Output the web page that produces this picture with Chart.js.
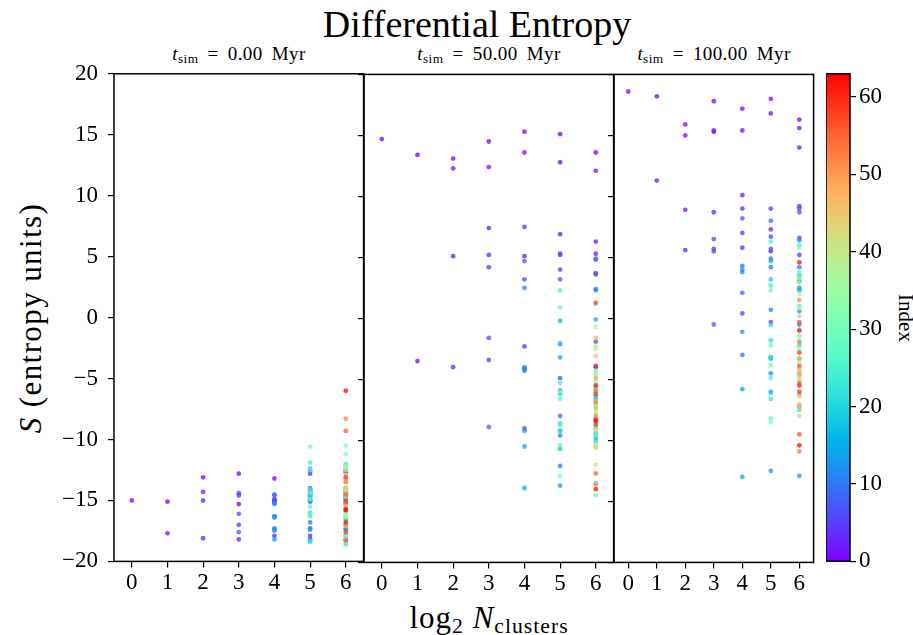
<!DOCTYPE html>
<html>
<head>
<meta charset="utf-8">
<title>Differential Entropy</title>
<script src="https://cdn.jsdelivr.net/npm/chart.js@4.4.1/dist/chart.umd.min.js"></script>
<style>
    body { margin: 0; background: #fff; width: 913px; height: 635px; position: relative; overflow: hidden;
           font-family: 'Liberation Serif', 'DejaVu Serif', serif; color: #000; }
    canvas { position: absolute; }
    .lbl { position: absolute; white-space: nowrap; transform: translate(-50%, -50%); line-height: 1; }
    .lbl sub { font-size: 70%; vertical-align: -0.25em; line-height: 0; }
    #title { left: 477px; top: 24px; font-size: 38px; }
    .sub { top: 53px; font-size: 19px; word-spacing: 4px; letter-spacing: 0.4px; }
    #ylab { left: 30px; top: 318px; font-size: 31px; letter-spacing: 1.4px; transform: translate(-50%, -50%) rotate(-90deg); }
    #xlab { left: 489px; top: 617px; font-size: 31px; letter-spacing: 1px; }
    #cblab { left: 905px; top: 318px; font-size: 21px; transform: translate(-50%, -50%) rotate(90deg); }
</style>
</head>
<body>
<div class="lbl" id="title">Differential Entropy</div>
<div class="lbl sub" style="left:239px"><i>t</i><sub>sim</sub> = 0.00 Myr</div>
<div class="lbl sub" style="left:489px"><i>t</i><sub>sim</sub> = 50.00 Myr</div>
<div class="lbl sub" style="left:714px"><i>t</i><sub>sim</sub> = 100.00 Myr</div>
<div class="lbl" id="ylab"><i>S</i> (entropy units)</div>
<div class="lbl" id="xlab">log<sub>2</sub> <i>N</i><sub>clusters</sub></div>
<div class="lbl" id="cblab">Index</div>

<canvas id="p0"></canvas>
<canvas id="p1"></canvas>
<canvas id="p2"></canvas>
<canvas id="cb"></canvas>

<script>
// ---- data: one list per log2(N_clusters), value order = cluster index ----
const X_TICKS = [0, 1, 2, 3, 4, 5, 6];
const Y_TICKS = [-20, -15, -10, -5, 0, 5, 10, 15, 20];
const CB_TICKS = [0, 10, 20, 30, 40, 50, 60];
const INDEX_MAX = 63;

const t0 = [
    [-15.0],
    [-15.1, -17.7],
    [-13.1, -14.3, -15.0, -18.1],
    [-15.3, -12.8, -18.2, -14.4, -14.6, -17.0, -16.1, -17.6],
    [-13.2, -15.0, -17.9, -14.9, -15.2, -16.3, -14.6, -17.3, -15.1, -14.5, -16.4, -17.4, -15.3, -18.2, -16.3, -17.5],
    [-15.0, -14.6, -17.9, -12.8, -18.2, -14.3, -15.1, -17.3, -14.0, -14.8, -16.8, -12.6, -14.5, -17.4, -14.2, -15.0,
     -14.4, -12.4, -14.7, -16.2, -18.3, -16.0, -18.4, -14.1, -11.9, -16.3, -12.5, -15.5, -14.9, -16.1, -10.6, -14.4],
    [-15.0, -14.3, -17.9, -12.7, -18.2, -14.6, -15.2, -17.3, -14.0, -14.8, -17.0, -12.6, -14.5, -17.4, -14.9, -15.3,
     -14.4, -12.4, -14.7, -16.5, -18.3, -16.6, -18.6, -14.2, -12.0, -16.2, -12.1, -15.6, -14.6, -16.0, -10.5, -11.2,
     -15.9, -18.0, -12.2, -16.3, -13.9, -17.8, -12.3, -14.4, -16.3, -12.5, -14.1, -17.1, -15.4, -12.9, -14.0, -16.9,
     -13.3, -14.7, -15.3, -17.0, -8.3, -13.5, -18.3, -14.5, -9.3, -15.1, -17.6, -13.1, -15.7, -16.8, -6.0, -15.8]
];

const t50 = [
    [14.7],
    [13.4, -3.5],
    [13.1, 12.3, 5.1, -4.0],
    [14.5, 12.4, 7.4, 5.2, 4.2, -3.4, -1.6, -8.9],
    [15.3, 13.6, 5.1, 7.5, -2.3, 3.2, -4.1, 4.7, -9.0, -4.2, 2.5, -9.2, -4.3, -4.0, -10.5, -13.9],
    [15.1, 12.8, 6.9, 5.3, 4.0, 5.2, -2.1, -4.9, 3.2, -8.0, -12.1, -9.6, -5.9, -13.7, -9.2, -3.2,
     -0.2, -8.6, -10.7, -6.2, -8.7, -6.0, -9.2, -2.0, -5.3, 2.3, -6.6, -10.4, 0.9, -12.9, -8.6, -6.0],
    [13.6, 12.1, 6.3, 5.3, 3.7, 4.9, -1.9, 3.6, -4.0, 4.8, 2.4, -6.1, 2.3, -8.2, -9.8, -6.6,
     -0.1, -9.4, -5.6, -10.1, -6.5, -8.9, -9.5, -13.5, 1.2, -6.3, -4.3, -9.6, -14.5, -7.1, -4.6, -5.2,
     -9.0, -7.8, -10.4, -2.5, -7.6, -0.7, -2.3, -4.5, -10.3, -5.8, -12.0, -8.5, -9.2, -3.1, -6.8, -10.6,
     -1.6, -7.35, -4.9, -8.0, -13.6, -6.9, -5.9, -8.3, -12.7, 1.3, -6.25, -8.7, -5.5, -3.9, -14.0, -8.4]
];

const t100 = [
    [18.6],
    [18.2, 11.3],
    [15.9, 15.0, 8.9, 5.6],
    [17.8, 15.4, 15.3, 8.7, 5.7, 6.5, 5.5, -0.5],
    [17.2, 15.4, 10.1, 9.0, 5.8, 7.0, 0.4, 8.2, 2.1, 4.3, -3.0, 3.8, 4.0, -1.1, -5.8, -13.0],
    [18.0, 16.8, 7.3, 5.5, 9.0, 6.7, -0.3, 5.7, 8.0, 4.9, 4.2, -4.5, 0.7, -12.5, -3.2, 4.7,
     -3.3, -6.0, 3.2, -6.1, -0.55, -1.8, -6.6, -3.15, 2.7, -4.9, 6.3, -8.2, -2.2, -3.8, 2.3, -8.5],
    [16.3, 15.6, 14.0, 9.2, 5.2, 6.6, 9.0, 8.7, 3.5, -0.5, 4.2, 2.5, 6.4, -12.9, 0.6, 3.1,
     2.3, -3.3, -6.2, -1.9, 3.0, -7.2, -7.5, -2.2, 1.0, 3.8, 6.0, -4.4, -0.9, 3.6, -3.9, 5.8,
     -2.5, 3.3, -5.0, -1.4, 2.0, -3.6, 0.85, -1.5, -4.9, 2.9, -5.15, -8.0, 0.2, -7.0, -6.4, -3.3,
     -4.2, -7.2, -2.0, 1.5, -4.6, -10.9, -5.3, -3.9, -9.5, -0.3, -6.0, -2.8, -5.5, -1.0, 4.6, -10.4]
];

(function () {
    'use strict';

    const FONT = "'Liberation Serif', 'DejaVu Serif', serif";
    const TICK_SIZE = 23;

    // matplotlib 'rainbow' colormap
    function rainbow(t, a) {
        const c = v => Math.max(0, Math.min(1, v));
        const r = c(Math.abs(2 * t - 0.5));
        const g = c(Math.sin(Math.PI * t));
        const b = c(Math.cos(Math.PI * t / 2));
        return `rgba(${Math.round(r * 255)},${Math.round(g * 255)},${Math.round(b * 255)},${a})`;
    }

    const fmt = v => (v < 0 ? '\u2212' + Math.abs(v) : String(v));

    const frame = {
        id: 'frame',
        afterDraw(chart) {
            const a = chart.chartArea, ctx = chart.ctx;
            ctx.save();
            ctx.strokeStyle = '#000';
            ctx.lineWidth = 1.5;
            ctx.strokeRect(a.left, a.top, a.right - a.left, a.bottom - a.top);
            ctx.restore();
        }
    };

    const tickGrid = { drawOnChartArea: false, drawTicks: true, tickLength: 6, color: '#000', lineWidth: 1.2 };

    function panelConfig(panel, showY) {
        const pts = [], cols = [];
        panel.forEach((vals, k) => vals.forEach((v, i) => {
            pts.push({ x: X_TICKS[k], y: v });
            cols.push(rainbow(i / INDEX_MAX, 0.75));
        }));
        return {
            type: 'scatter',
            data: {
                datasets: [{
                    data: pts,
                    pointBackgroundColor: cols,
                    pointBorderWidth: 0,
                    borderWidth: 0,
                    pointRadius: 2.4,
                    pointHoverRadius: 2.4
                }]
            },
            options: {
                responsive: false,
                animation: false,
                devicePixelRatio: 1,
                layout: { padding: 0 },
                plugins: { legend: { display: false }, tooltip: { enabled: false } },
                scales: {
                    x: {
                        type: 'linear', min: -0.5, max: 6.5,
                        afterBuildTicks: s => { s.ticks = X_TICKS.map(v => ({ value: v })); },
                        grid: tickGrid,
                        border: { display: false },
                        ticks: { color: '#000', font: { family: FONT, size: TICK_SIZE }, padding: 2, autoSkip: false, maxRotation: 0 }
                    },
                    y: {
                        type: 'linear', min: -20, max: 20,
                        afterBuildTicks: s => { s.ticks = Y_TICKS.map(v => ({ value: v })); },
                        grid: tickGrid,
                        border: { display: false },
                        ticks: { display: showY, color: '#000', font: { family: FONT, size: TICK_SIZE }, padding: 10, autoSkip: false, callback: fmt }
                    }
                }
            },
            plugins: [frame]
        };
    }

    function colorbarConfig() {
        return {
            type: 'bar',
            data: {
                labels: ['Index'],
                datasets: [{
                    data: [[0, INDEX_MAX]],
                    borderWidth: 0,
                    barPercentage: 1,
                    categoryPercentage: 1,
                    backgroundColor: ctx => {
                        const a = ctx.chart.chartArea;
                        if (!a) return '#fff';
                        const g = ctx.chart.ctx.createLinearGradient(0, a.bottom, 0, a.top);
                        for (let i = 0; i <= 32; i++) g.addColorStop(i / 32, rainbow(i / 32, 1));
                        return g;
                    }
                }]
            },
            options: {
                responsive: false,
                animation: false,
                devicePixelRatio: 1,
                layout: { padding: 0 },
                plugins: { legend: { display: false }, tooltip: { enabled: false } },
                scales: {
                    x: { display: false },
                    y: {
                        position: 'right', min: 0, max: INDEX_MAX,
                        afterBuildTicks: s => { s.ticks = CB_TICKS.map(v => ({ value: v })); },
                        afterFit: s => { s.width = 50; },
                        grid: tickGrid,
                        border: { display: false },
                        ticks: { color: '#000', font: { family: FONT, size: TICK_SIZE }, padding: 3, autoSkip: false }
                    }
                }
            },
            plugins: [frame]
        };
    }

    // build once to measure the axis margins, then rebuild so the plot area lands on the box
    function build(id, makeCfg, box) {
        const cv = document.getElementById(id);
        cv.width = box.w + 200;
        cv.height = box.h + 200;
        let chart = new Chart(cv, makeCfg());
        const a = chart.chartArea;
        const mL = a.left, mT = a.top, mR = cv.width - a.right, mB = cv.height - a.bottom;
        chart.destroy();
        cv.width = box.w + mL + mR;
        cv.height = box.h + mT + mB;
        cv.style.left = (box.x - mL) + 'px';
        cv.style.top = (box.y - mT) + 'px';
        return new Chart(cv, makeCfg());
    }

    build('p0', () => panelConfig(t0, true), { x: 114, y: 74, w: 250, h: 488 });
    build('p1', () => panelConfig(t50, false), { x: 364, y: 74, w: 250, h: 488 });
    build('p2', () => panelConfig(t100, false), { x: 614, y: 74, w: 200, h: 488 });
    build('cb', colorbarConfig, { x: 826, y: 74, w: 24, h: 488 });
})();
</script>
</body>
</html>
